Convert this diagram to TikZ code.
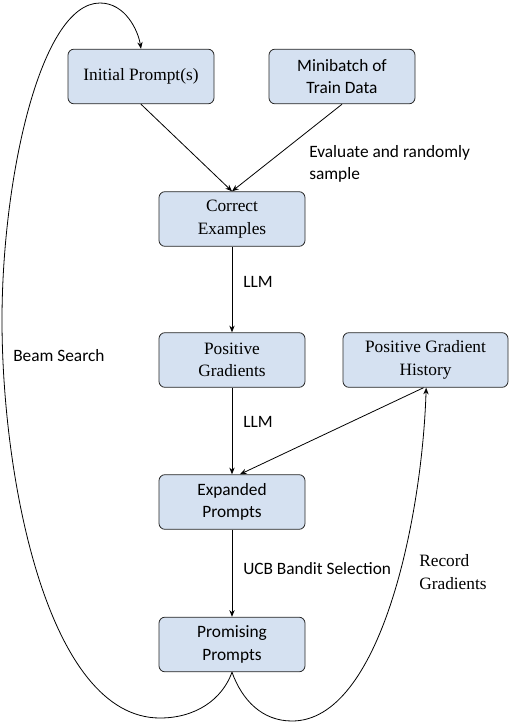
\documentclass[tikz,border=0pt]{standalone}
\usepackage{fontspec}
\setmainfont{Liberation Serif}
\newfontfamily\calib{Carlito}
\usetikzlibrary{arrows.meta}
\definecolor{boxfill}{RGB}{213,225,241}
\begin{document}
\begin{tikzpicture}[x=0.75pt,y=-0.75pt,
  box/.style={draw=black!85, line width=0.6pt, fill=boxfill, rounded corners=4.5pt, minimum width=109.5pt, minimum height=41pt, align=center, inner sep=1pt, font=\rmfamily\fontsize{13}{17}\selectfont},
  sbox/.style={box, font=\calib\fontsize{13}{17}\selectfont},
  conn/.style={-{Stealth[length=5pt,width=4pt]}, line width=0.6pt},
  lbl/.style={anchor=west, inner sep=0pt, align=left, font=\calib\fontsize{13}{17}\selectfont},
  slbl/.style={anchor=west, inner sep=0pt, align=left, font=\rmfamily\fontsize{13}{17}\selectfont}
]
\useasboundingbox (0,0) rectangle (510,724);

\node[box]  (init) at (141,76.5) {Initial Prompt(s)};
\node[sbox] (mini) at (342,76.5) {Minibatch of\\Train Data};
\node[box]  (corr) at (232,219) {Correct\\Examples};
\node[box]  (posg) at (232,360) {Positive\\Gradients};
\node[box, minimum width=123.75pt] (hist) at (425.5,360) {Positive Gradient\\History};
\node[sbox] (expd) at (232,502) {Expanded\\Prompts};
\node[sbox] (prom) at (232,644.5) {Promising\\Prompts};

\draw[conn] (init.south) -- (corr.north);
\draw[conn] (mini.south) -- (corr.north);
\draw[conn] (corr.south) -- (posg.north);
\draw[conn] (posg.south) -- (expd.north);
\draw[conn] ([xshift=-1.5pt]hist.south) -- ([xshift=6pt]expd.north);
\draw[conn] (expd.south) -- (prom.south |- prom.north);

% Beam search loop
\draw[conn] (prom.south) .. controls (222,700) and (195,718) .. (160,718)
  .. controls (48,718) and (2,480) .. (2,320)
  .. controls (2,180) and (40,3) .. (100,3)
  .. controls (125,3) and (138,30) .. (init.north);

% Record gradients loop
\draw[conn] (prom.south) .. controls (242,700) and (262,721) .. (292,721)
  .. controls (380,721) and (422,520) .. ([xshift=0.5pt]hist.south);

\node[lbl] (eval) at (309,164) {Evaluate and randomly\\sample};
\node[lbl] (llma) at (243,282) {LLM};
\node[lbl] (llmb) at (243,422) {LLM};
\node[lbl] (beam) at (13,356) {Beam Search};
\node[lbl] (ucb)  at (243,569) {UCB Bandit Selection};
\node[slbl] (rec) at (419,572) {Record\\Gradients};
\end{tikzpicture}
\end{document}
